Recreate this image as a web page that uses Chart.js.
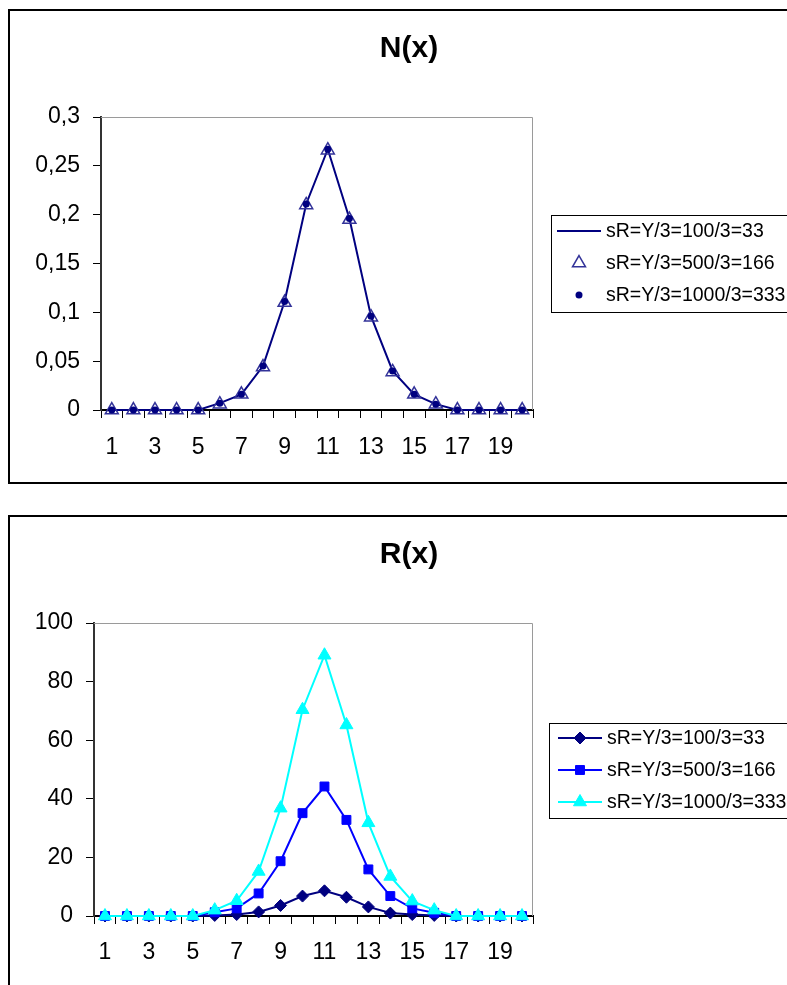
<!DOCTYPE html>
<html><head><meta charset="utf-8">
<script src="https://cdn.jsdelivr.net/npm/chart.js@4/dist/chart.umd.min.js"></script>
<style>
html,body{margin:0;padding:0;background:#fff;overflow:hidden;width:787px;height:985px;}
.panel{position:absolute;border:2px solid #000;background:#fff;}
#p1{left:8px;top:9px;width:800px;height:471px;}
#p2{left:8px;top:515px;width:800px;height:480px;}
canvas{position:absolute;left:0;top:0;}
</style></head><body>
<div class="panel" id="p1"><canvas id="c1" width="800" height="471"></canvas></div>
<div class="panel" id="p2"><canvas id="c2" width="800" height="468"></canvas></div>
<script>
const categories = ['1','2','3','4','5','6','7','8','9','10','11','12','13','14','15','16','17','18','19','20'];
const xTickLabels = ['1','3','5','7','9','11','13','15','17','19'];
const nTickLabels = ['0','0,05','0,1','0,15','0,2','0,25','0,3'];
const rTickLabels = ['0','20','40','60','80','100'];
const seriesNames = ['sR=Y/3=100/3=33','sR=Y/3=500/3=166','sR=Y/3=1000/3=333'];
const titleN = 'N(x)';
const titleR = 'R(x)';

const n33  = [0,0,0,0,0,0.007,0.016,0.045,0.111,0.211,0.267,0.196,0.096,0.040,0.016,0.006,0,0,0,0];
const n166 = [0,0,0,0,0,0.006,0.016,0.044,0.110,0.210,0.266,0.195,0.095,0.039,0.016,0.006,0,0,0,0];
const n333 = [0,0,0,0,0,0.007,0.016,0.045,0.111,0.211,0.267,0.196,0.096,0.040,0.016,0.006,0,0,0,0];

const r33  = [0,0,0,0,0,0.2,0.5,1.4,3.6,6.8,8.6,6.4,3.1,1.0,0.5,0.2,0,0,0,0];
const r166 = [0,0,0,0,0,1.3,2.6,7.7,18.7,35.1,44.2,32.8,15.9,6.8,2.6,1.1,0,0,0,0];
const r333 = [0,0,0,0,0,2.0,5.2,15.2,36.8,70.4,89.0,65.2,31.8,13.5,5.1,2.0,0,0,0,0];

const FONT = '"Liberation Sans", Arial, Helvetica, sans-serif';

function drawMarker(ctx, style, x, y, r, fill, stroke, lw) {
  ctx.save();
  ctx.beginPath();
  if (style === 'circle') {
    ctx.arc(x, y, r, 0, Math.PI * 2);
  } else if (style === 'triangle') {
    for (let k = 0; k < 3; k++) {
      const a = -Math.PI / 2 + k * 2 * Math.PI / 3;
      const px = x + Math.cos(a) * r, py = y + Math.sin(a) * r;
      if (k === 0) ctx.moveTo(px, py); else ctx.lineTo(px, py);
    }
    ctx.closePath();
  } else if (style === 'rect') {
    const s = Math.SQRT1_2 * r;
    ctx.rect(x - s, y - s, 2 * s, 2 * s);
  } else if (style === 'rectRot') {
    ctx.moveTo(x, y - r); ctx.lineTo(x + r, y); ctx.lineTo(x, y + r); ctx.lineTo(x - r, y); ctx.closePath();
  }
  if (fill) { ctx.fillStyle = fill; ctx.fill(); }
  if (stroke && lw) { ctx.strokeStyle = stroke; ctx.lineWidth = lw; ctx.stroke(); }
  ctx.restore();
}

function makeChart(canvasId, cfg) {
  const decor = {
    id: 'decor_' + canvasId,
    beforeDatasetsDraw(chart) {
      const {ctx, chartArea: a} = chart;
      ctx.save();
      ctx.strokeStyle = '#9a9a9a';
      ctx.lineWidth = 1;
      ctx.beginPath();
      ctx.moveTo(a.left, a.top + 0.5);
      ctx.lineTo(a.right - 0.5, a.top + 0.5);
      ctx.lineTo(a.right - 0.5, a.bottom);
      ctx.stroke();
      ctx.restore();
    },
    afterDraw(chart) {
      const ctx = chart.ctx;
      ctx.save();
      ctx.fillStyle = '#000';
      ctx.font = 'bold 30px ' + FONT;
      ctx.textAlign = 'center';
      ctx.textBaseline = 'middle';
      ctx.fillText(cfg.title, cfg.titleX, cfg.titleY);
      const L = cfg.legend;
      ctx.fillStyle = '#fff';
      ctx.fillRect(L.x, L.y, L.w, L.h);
      ctx.strokeStyle = '#000';
      ctx.lineWidth = 1;
      ctx.strokeRect(L.x + 0.5, L.y + 0.5, L.w, L.h);
      ctx.font = '19.5px ' + FONT;
      ctx.textAlign = 'left';
      ctx.textBaseline = 'middle';
      chart.data.datasets.forEach((ds, i) => {
        const y = L.rows[i];
        if (ds.showLine !== false) {
          ctx.strokeStyle = ds.borderColor;
          ctx.lineWidth = ds.borderWidth;
          ctx.beginPath();
          ctx.moveTo(L.lx1, y);
          ctx.lineTo(L.lx2, y);
          ctx.stroke();
        }
        if (ds.pointRadius > 0) {
          drawMarker(ctx, ds.pointStyle, L.mx, y, ds.pointRadius,
            ds.pointBackgroundColor, ds.pointBorderColor, ds.pointBorderWidth);
        }
        ctx.fillStyle = '#000';
        ctx.fillText(ds.label, L.tx, y + 1);
      });
      ctx.restore();
    }
  };
  return new Chart(document.getElementById(canvasId), {
    type: 'line',
    data: { labels: categories, datasets: cfg.datasets },
    options: {
      responsive: false,
      animation: false,
      events: [],
      layout: { padding: { left: 0, top: cfg.padTop, right: cfg.padRight, bottom: 0 } },
      plugins: { legend: { display: false }, title: { display: false }, tooltip: { enabled: false } },
      elements: { line: { tension: 0 } },
      scales: {
        x: {
          type: 'category',
          offset: true,
          grid: { offset: true, drawOnChartArea: false, drawTicks: true, tickLength: 8, color: '#000', lineWidth: 1 },
          border: { display: true, color: '#000', width: 2 },
          ticks: {
            autoSkip: false, maxRotation: 0, minRotation: 0, padding: cfg.xPad,
            color: '#000', font: { family: FONT, size: 23 },
            callback(v, i) { const l = categories[i]; return xTickLabels.includes(l) ? l : ''; }
          },
          afterFit(s) { s.height = cfg.xHeight; }
        },
        y: {
          min: cfg.yMin, max: cfg.yMax,
          grid: { drawOnChartArea: false, drawTicks: true, tickLength: 8, color: '#000', lineWidth: 1 },
          border: { display: true, color: '#333', width: 2 },
          ticks: {
            stepSize: cfg.yStep, padding: 13, color: '#000', font: { family: FONT, size: 23 },
            callback(v, i) { return cfg.yLabels[i]; }
          },
          afterFit(s) { s.width = cfg.yWidth; }
        }
      }
    },
    plugins: [decor]
  });
}

makeChart('c1', {
  title: titleN, titleX: 399, titleY: 38,
  padTop: 106, padRight: 277, yWidth: 91, xHeight: 72, xPad: 16,
  yMin: 0, yMax: 0.3, yStep: 0.05, yLabels: nTickLabels,
  legend: { x: 541, y: 204, w: 300, h: 97, rows: [220, 252, 284], lx1: 547, lx2: 591, mx: 569, tx: 596 },
  datasets: [
    { label: seriesNames[0], data: n33, order: 2, borderColor: '#000080', borderWidth: 2, pointRadius: 0, clip: false },
    { label: seriesNames[1], data: n166, order: 1, showLine: false, borderColor: '#333399', borderWidth: 1.5,
      pointStyle: 'triangle', pointRadius: 7.5, pointBackgroundColor: 'rgba(255,255,255,0)', pointBorderColor: '#333399', pointBorderWidth: 1.5, clip: false },
    { label: seriesNames[2], data: n333, order: 0, showLine: false, borderColor: '#000080', borderWidth: 1,
      pointStyle: 'circle', pointRadius: 3.5, pointBackgroundColor: '#000080', pointBorderColor: '#000080', pointBorderWidth: 0, clip: false }
  ]
});

makeChart('c2', {
  title: titleR, titleX: 399, titleY: 38,
  padTop: 106, padRight: 277, yWidth: 84, xHeight: 69, xPad: 15,
  yMin: 0, yMax: 100, yStep: 20, yLabels: rTickLabels,
  legend: { x: 539, y: 206, w: 300, h: 95, rows: [221, 253, 285], lx1: 548, lx2: 592, mx: 570, tx: 597 },
  datasets: [
    { label: seriesNames[0], data: r33, order: 2, borderColor: '#000080', borderWidth: 2,
      pointStyle: 'rectRot', pointRadius: 6, pointBackgroundColor: '#000080', pointBorderColor: '#000080', pointBorderWidth: 1, clip: false },
    { label: seriesNames[1], data: r166, order: 1, borderColor: '#0000FF', borderWidth: 2,
      pointStyle: 'rect', pointRadius: 6.3, pointBackgroundColor: '#0000FF', pointBorderColor: '#0000FF', pointBorderWidth: 1, clip: false },
    { label: seriesNames[2], data: r333, order: 0, borderColor: '#00FFFF', borderWidth: 2,
      pointStyle: 'triangle', pointRadius: 7.5, pointBackgroundColor: '#00FFFF', pointBorderColor: '#00FFFF', pointBorderWidth: 1, clip: false }
  ]
});
</script>
</body></html>
